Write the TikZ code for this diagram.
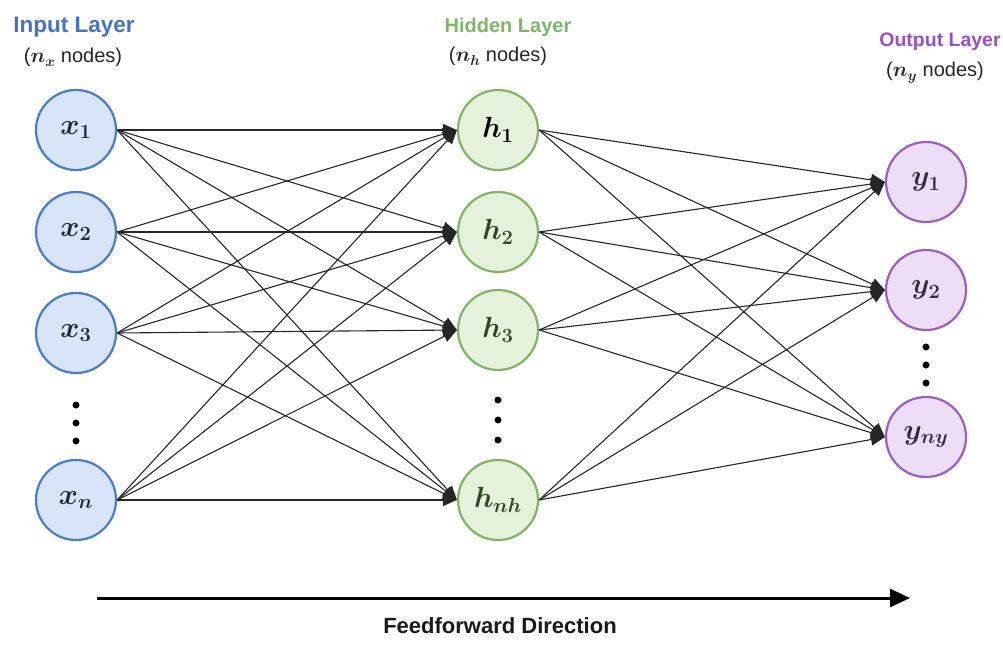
\documentclass[tikz,border=0pt]{standalone}
\usepackage{amsmath}
\usepackage{bm}
\usepackage{graphicx}
\usepackage{fontspec}
\setsansfont{Liberation Sans}
\usetikzlibrary{arrows.meta}
\definecolor{inblue}{HTML}{4A7CC9}
\definecolor{infill}{HTML}{D8E5F8}
\definecolor{hgreen}{HTML}{82B366}
\definecolor{hfill}{HTML}{E4F2DC}
\definecolor{opurple}{HTML}{9B5FC0}
\definecolor{ofill}{HTML}{EEDDF7}
\definecolor{titblue}{HTML}{4673C4}
\definecolor{titgreen}{HTML}{7DB768}
\definecolor{titpurple}{HTML}{9B4FC6}
\definecolor{hlab}{HTML}{2F4A22}
\definecolor{ylab}{HTML}{3A2A48}
\definecolor{xlab}{HTML}{1F2A3A}
\newcommand{\neurlab}[1]{\scalebox{1.17}{$\bm{#1}$}}
\tikzset{
  neuron/.style={circle, minimum size=80pt, inner sep=0pt, line width=2.2pt, font=\fontsize{24}{26}\selectfont},
  innode/.style={neuron, draw=inblue, fill=infill, text=xlab},
  hidnode/.style={neuron, draw=hgreen, fill=hfill, text=hlab},
  outnode/.style={neuron, draw=opurple, fill=ofill, text=ylab},
  conn/.style={line width=1.1pt, draw=black!85, -{Triangle[length=14pt,width=12pt]}},
  title/.style={font=\sffamily\bfseries\fontsize{20}{22}\selectfont, anchor=base},
  sub/.style={font=\sffamily\fontsize{20}{22}\selectfont, text=black!85, anchor=base},
  vdot/.style={circle, fill=black, minimum size=7pt, inner sep=0pt},
}
\begin{document}
\begin{tikzpicture}[x=1pt,y=-1pt]
\useasboundingbox (0,0) rectangle (1003,652);
% input
\node[innode] (x1) at (76,130) {\neurlab{x_1}};
\node[innode] (x2) at (76,232) {\neurlab{x_2}};
\node[innode] (x3) at (76,333) {\neurlab{x_3}};
\node[innode] (xn) at (76,500) {\neurlab{x_n}};
% hidden
\node[hidnode, text=black] (h1) at (498,130) {\neurlab{h_1}};
\node[hidnode] (h2) at (498,232) {\neurlab{h_2}};
\node[hidnode] (h3) at (498,330) {\neurlab{h_3}};
\node[hidnode] (hn) at (498,500) {\neurlab{h_{nh}}};
% output
\node[outnode] (y1) at (926,182) {\neurlab{y_1}};
\node[outnode] (y2) at (926,290) {\neurlab{y_2}};
\node[outnode] (yn) at (926,437) {\neurlab{y_{ny}}};
% dots
\foreach \yy [count=\i] in {405,423,441} {
  \node[vdot] (dx\i) at (76,\yy) {};
}
\foreach \yy [count=\i] in {400,420,440} {
  \node[vdot] (dh\i) at (498,\yy) {};
}
\foreach \yy [count=\i] in {347,365,383} {
  \node[vdot] (dy\i) at (926,\yy) {};
}
% titles
\node[title, text=titblue, font=\sffamily\bfseries\fontsize{22.5}{24}\selectfont] (tin) at (74,33) {Input Layer};
\node[sub] (sin) at (73,63) {($\bm{n_x}$ nodes)};
\node[title, text=titgreen] (thid) at (508,33) {Hidden Layer};
\node[sub] (shid) at (498,62) {($\bm{n_h}$ nodes)};
\node[title, text=titpurple, font=\sffamily\bfseries\fontsize{19.5}{21}\selectfont] (tout) at (940,47) {Output Layer};
\node[sub] (sout) at (935,77) {($\bm{n_y}$ nodes)};
% connections
\foreach \s in {x1,x2,x3,xn} {
  \foreach \t in {h1,h2,h3,hn} {
    \draw[conn] (\s.east) -- (\t.west);
  }
}
\foreach \s in {h1,h2,h3,hn} {
  \foreach \t in {y1,y2,yn} {
    \draw[conn] (\s.east) -- (\t.west);
  }
}
% direction arrow
\coordinate (fa) at (97,598);
\coordinate (fb) at (910,598);
\draw[line width=3pt, -{Triangle[length=20pt,width=18pt]}] (fa) -- (fb);
\node[font=\sffamily\bfseries\fontsize{22}{24}\selectfont, text=black!90, anchor=base] (ff) at (500,633) {Feedforward Direction};
\end{tikzpicture}
\end{document}
